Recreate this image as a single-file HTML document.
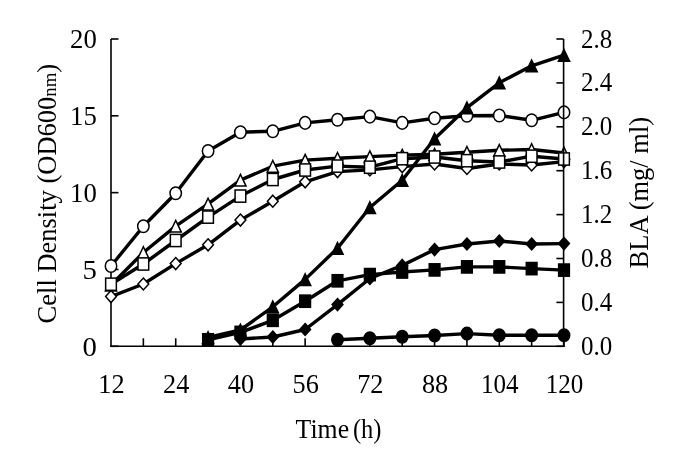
<!DOCTYPE html>
<html><head><meta charset="utf-8"><style>
html,body{margin:0;padding:0;background:#fff;}
svg{display:block;}
text{font-family:"Liberation Serif",serif;fill:#000;}
</style></head><body>
<svg width="685" height="469" viewBox="0 0 685 469">
<rect width="685" height="469" fill="#fff"/>
<line x1="111.00" y1="39.00" x2="111.00" y2="347.10" stroke="#000" stroke-width="1.6"/>
<line x1="110.20" y1="346.30" x2="564.80" y2="346.30" stroke="#000" stroke-width="1.6"/>
<line x1="111.00" y1="346.30" x2="118.50" y2="346.30" stroke="#000" stroke-width="1.6"/>
<line x1="111.00" y1="269.48" x2="118.50" y2="269.48" stroke="#000" stroke-width="1.6"/>
<line x1="111.00" y1="192.65" x2="118.50" y2="192.65" stroke="#000" stroke-width="1.6"/>
<line x1="111.00" y1="115.82" x2="118.50" y2="115.82" stroke="#000" stroke-width="1.6"/>
<line x1="111.00" y1="39.00" x2="118.50" y2="39.00" stroke="#000" stroke-width="1.6"/>
<line x1="143.36" y1="338.30" x2="143.36" y2="346.30" stroke="#000" stroke-width="1.6"/>
<line x1="175.71" y1="338.30" x2="175.71" y2="346.30" stroke="#000" stroke-width="1.6"/>
<line x1="208.07" y1="338.30" x2="208.07" y2="346.30" stroke="#000" stroke-width="1.6"/>
<line x1="240.43" y1="338.30" x2="240.43" y2="346.30" stroke="#000" stroke-width="1.6"/>
<line x1="272.79" y1="338.30" x2="272.79" y2="346.30" stroke="#000" stroke-width="1.6"/>
<line x1="305.14" y1="338.30" x2="305.14" y2="346.30" stroke="#000" stroke-width="1.6"/>
<line x1="337.50" y1="338.30" x2="337.50" y2="346.30" stroke="#000" stroke-width="1.6"/>
<line x1="369.86" y1="338.30" x2="369.86" y2="346.30" stroke="#000" stroke-width="1.6"/>
<line x1="402.21" y1="338.30" x2="402.21" y2="346.30" stroke="#000" stroke-width="1.6"/>
<line x1="434.57" y1="338.30" x2="434.57" y2="346.30" stroke="#000" stroke-width="1.6"/>
<line x1="466.93" y1="338.30" x2="466.93" y2="346.30" stroke="#000" stroke-width="1.6"/>
<line x1="499.29" y1="338.30" x2="499.29" y2="346.30" stroke="#000" stroke-width="1.6"/>
<line x1="531.64" y1="338.30" x2="531.64" y2="346.30" stroke="#000" stroke-width="1.6"/>
<line x1="564.00" y1="338.30" x2="564.00" y2="346.30" stroke="#000" stroke-width="1.6"/>
<polyline points="111.00,266.00 143.36,226.30 175.71,193.20 208.07,151.00 240.43,132.20 272.79,131.30 305.14,122.90 337.50,119.80 369.86,116.60 402.21,122.90 434.57,118.30 466.93,115.80 499.29,115.50 531.64,120.30 564.00,112.40" fill="none" stroke="#000" stroke-width="3.40" stroke-linejoin="round"/>
<ellipse cx="111.00" cy="266.00" rx="5.7" ry="6.3" fill="#fff" stroke="#000" stroke-width="1.50"/>
<ellipse cx="143.36" cy="226.30" rx="5.7" ry="6.3" fill="#fff" stroke="#000" stroke-width="1.50"/>
<ellipse cx="175.71" cy="193.20" rx="5.7" ry="6.3" fill="#fff" stroke="#000" stroke-width="1.50"/>
<ellipse cx="208.07" cy="151.00" rx="5.7" ry="6.3" fill="#fff" stroke="#000" stroke-width="1.50"/>
<ellipse cx="240.43" cy="132.20" rx="5.7" ry="6.3" fill="#fff" stroke="#000" stroke-width="1.50"/>
<ellipse cx="272.79" cy="131.30" rx="5.7" ry="6.3" fill="#fff" stroke="#000" stroke-width="1.50"/>
<ellipse cx="305.14" cy="122.90" rx="5.7" ry="6.3" fill="#fff" stroke="#000" stroke-width="1.50"/>
<ellipse cx="337.50" cy="119.80" rx="5.7" ry="6.3" fill="#fff" stroke="#000" stroke-width="1.50"/>
<ellipse cx="369.86" cy="116.60" rx="5.7" ry="6.3" fill="#fff" stroke="#000" stroke-width="1.50"/>
<ellipse cx="402.21" cy="122.90" rx="5.7" ry="6.3" fill="#fff" stroke="#000" stroke-width="1.50"/>
<ellipse cx="434.57" cy="118.30" rx="5.7" ry="6.3" fill="#fff" stroke="#000" stroke-width="1.50"/>
<ellipse cx="466.93" cy="115.80" rx="5.7" ry="6.3" fill="#fff" stroke="#000" stroke-width="1.50"/>
<ellipse cx="499.29" cy="115.50" rx="5.7" ry="6.3" fill="#fff" stroke="#000" stroke-width="1.50"/>
<ellipse cx="531.64" cy="120.30" rx="5.7" ry="6.3" fill="#fff" stroke="#000" stroke-width="1.50"/>
<ellipse cx="564.00" cy="112.40" rx="5.7" ry="6.3" fill="#fff" stroke="#000" stroke-width="1.50"/>
<polyline points="111.00,285.00 143.36,252.50 175.71,226.10 208.07,203.90 240.43,180.10 272.79,166.20 305.14,160.10 337.50,158.20 369.86,156.60 402.21,155.10 434.57,154.20 466.93,152.20 499.29,150.30 531.64,149.50 564.00,153.00" fill="none" stroke="#000" stroke-width="3.40" stroke-linejoin="round"/>
<polygon points="111.00,279.30 116.60,291.00 105.40,291.00" fill="#fff" stroke="#000" stroke-width="1.50" stroke-linejoin="miter"/>
<polygon points="143.36,246.80 148.96,258.50 137.76,258.50" fill="#fff" stroke="#000" stroke-width="1.50" stroke-linejoin="miter"/>
<polygon points="175.71,220.40 181.31,232.10 170.11,232.10" fill="#fff" stroke="#000" stroke-width="1.50" stroke-linejoin="miter"/>
<polygon points="208.07,198.20 213.67,209.90 202.47,209.90" fill="#fff" stroke="#000" stroke-width="1.50" stroke-linejoin="miter"/>
<polygon points="240.43,174.40 246.03,186.10 234.83,186.10" fill="#fff" stroke="#000" stroke-width="1.50" stroke-linejoin="miter"/>
<polygon points="272.79,160.50 278.39,172.20 267.19,172.20" fill="#fff" stroke="#000" stroke-width="1.50" stroke-linejoin="miter"/>
<polygon points="305.14,154.40 310.74,166.10 299.54,166.10" fill="#fff" stroke="#000" stroke-width="1.50" stroke-linejoin="miter"/>
<polygon points="337.50,152.50 343.10,164.20 331.90,164.20" fill="#fff" stroke="#000" stroke-width="1.50" stroke-linejoin="miter"/>
<polygon points="369.86,150.90 375.46,162.60 364.26,162.60" fill="#fff" stroke="#000" stroke-width="1.50" stroke-linejoin="miter"/>
<polygon points="402.21,149.40 407.81,161.10 396.61,161.10" fill="#fff" stroke="#000" stroke-width="1.50" stroke-linejoin="miter"/>
<polygon points="434.57,148.50 440.17,160.20 428.97,160.20" fill="#fff" stroke="#000" stroke-width="1.50" stroke-linejoin="miter"/>
<polygon points="466.93,146.50 472.53,158.20 461.33,158.20" fill="#fff" stroke="#000" stroke-width="1.50" stroke-linejoin="miter"/>
<polygon points="499.29,144.60 504.89,156.30 493.69,156.30" fill="#fff" stroke="#000" stroke-width="1.50" stroke-linejoin="miter"/>
<polygon points="531.64,143.80 537.24,155.50 526.04,155.50" fill="#fff" stroke="#000" stroke-width="1.50" stroke-linejoin="miter"/>
<polygon points="564.00,147.30 569.60,159.00 558.40,159.00" fill="#fff" stroke="#000" stroke-width="1.50" stroke-linejoin="miter"/>
<polyline points="111.00,296.60 143.36,284.00 175.71,263.60 208.07,244.80 240.43,220.10 272.79,201.20 305.14,181.80 337.50,171.60 369.86,169.90 402.21,166.60 434.57,164.00 466.93,168.50 499.29,164.00 531.64,165.00 564.00,161.60" fill="none" stroke="#000" stroke-width="3.40" stroke-linejoin="round"/>
<polygon points="111.00,290.60 116.40,296.60 111.00,302.60 105.60,296.60" fill="#fff" stroke="#000" stroke-width="1.50"/>
<polygon points="143.36,278.00 148.76,284.00 143.36,290.00 137.96,284.00" fill="#fff" stroke="#000" stroke-width="1.50"/>
<polygon points="175.71,257.60 181.11,263.60 175.71,269.60 170.31,263.60" fill="#fff" stroke="#000" stroke-width="1.50"/>
<polygon points="208.07,238.80 213.47,244.80 208.07,250.80 202.67,244.80" fill="#fff" stroke="#000" stroke-width="1.50"/>
<polygon points="240.43,214.10 245.83,220.10 240.43,226.10 235.03,220.10" fill="#fff" stroke="#000" stroke-width="1.50"/>
<polygon points="272.79,195.20 278.19,201.20 272.79,207.20 267.39,201.20" fill="#fff" stroke="#000" stroke-width="1.50"/>
<polygon points="305.14,175.80 310.54,181.80 305.14,187.80 299.74,181.80" fill="#fff" stroke="#000" stroke-width="1.50"/>
<polygon points="337.50,165.60 342.90,171.60 337.50,177.60 332.10,171.60" fill="#fff" stroke="#000" stroke-width="1.50"/>
<polygon points="369.86,163.90 375.26,169.90 369.86,175.90 364.46,169.90" fill="#fff" stroke="#000" stroke-width="1.50"/>
<polygon points="402.21,160.60 407.61,166.60 402.21,172.60 396.81,166.60" fill="#fff" stroke="#000" stroke-width="1.50"/>
<polygon points="434.57,158.00 439.97,164.00 434.57,170.00 429.17,164.00" fill="#fff" stroke="#000" stroke-width="1.50"/>
<polygon points="466.93,162.50 472.33,168.50 466.93,174.50 461.53,168.50" fill="#fff" stroke="#000" stroke-width="1.50"/>
<polygon points="499.29,158.00 504.69,164.00 499.29,170.00 493.89,164.00" fill="#fff" stroke="#000" stroke-width="1.50"/>
<polygon points="531.64,159.00 537.04,165.00 531.64,171.00 526.24,165.00" fill="#fff" stroke="#000" stroke-width="1.50"/>
<polygon points="564.00,155.60 569.40,161.60 564.00,167.60 558.60,161.60" fill="#fff" stroke="#000" stroke-width="1.50"/>
<polyline points="111.00,284.20 143.36,264.00 175.71,240.50 208.07,217.10 240.43,196.10 272.79,179.50 305.14,170.00 337.50,166.10 369.86,167.20 402.21,158.70 434.57,157.00 466.93,160.70 499.29,162.00 531.64,156.20 564.00,159.00" fill="none" stroke="#000" stroke-width="3.40" stroke-linejoin="round"/>
<rect x="105.65" y="278.10" width="10.70" height="12.20" fill="#fff" stroke="#000" stroke-width="1.50"/>
<rect x="138.01" y="257.90" width="10.70" height="12.20" fill="#fff" stroke="#000" stroke-width="1.50"/>
<rect x="170.36" y="234.40" width="10.70" height="12.20" fill="#fff" stroke="#000" stroke-width="1.50"/>
<rect x="202.72" y="211.00" width="10.70" height="12.20" fill="#fff" stroke="#000" stroke-width="1.50"/>
<rect x="235.08" y="190.00" width="10.70" height="12.20" fill="#fff" stroke="#000" stroke-width="1.50"/>
<rect x="267.44" y="173.40" width="10.70" height="12.20" fill="#fff" stroke="#000" stroke-width="1.50"/>
<rect x="299.79" y="163.90" width="10.70" height="12.20" fill="#fff" stroke="#000" stroke-width="1.50"/>
<rect x="332.15" y="160.00" width="10.70" height="12.20" fill="#fff" stroke="#000" stroke-width="1.50"/>
<rect x="364.51" y="161.10" width="10.70" height="12.20" fill="#fff" stroke="#000" stroke-width="1.50"/>
<rect x="396.86" y="152.60" width="10.70" height="12.20" fill="#fff" stroke="#000" stroke-width="1.50"/>
<rect x="429.22" y="150.90" width="10.70" height="12.20" fill="#fff" stroke="#000" stroke-width="1.50"/>
<rect x="461.58" y="154.60" width="10.70" height="12.20" fill="#fff" stroke="#000" stroke-width="1.50"/>
<rect x="493.94" y="155.90" width="10.70" height="12.20" fill="#fff" stroke="#000" stroke-width="1.50"/>
<rect x="526.29" y="150.10" width="10.70" height="12.20" fill="#fff" stroke="#000" stroke-width="1.50"/>
<rect x="558.65" y="152.90" width="10.70" height="12.20" fill="#fff" stroke="#000" stroke-width="1.50"/>
<polyline points="208.07,337.50 240.43,330.00 272.79,306.80 305.14,279.40 337.50,248.20 369.86,207.50 402.21,180.30 434.57,138.80 466.93,107.70 499.29,82.80 531.64,65.80 564.00,55.20" fill="none" stroke="#000" stroke-width="3.40" stroke-linejoin="round"/>
<polygon points="208.07,331.80 213.67,343.50 202.47,343.50" fill="#000" stroke="#000" stroke-width="1.50" stroke-linejoin="miter"/>
<polygon points="240.43,324.30 246.03,336.00 234.83,336.00" fill="#000" stroke="#000" stroke-width="1.50" stroke-linejoin="miter"/>
<polygon points="272.79,301.10 278.39,312.80 267.19,312.80" fill="#000" stroke="#000" stroke-width="1.50" stroke-linejoin="miter"/>
<polygon points="305.14,273.70 310.74,285.40 299.54,285.40" fill="#000" stroke="#000" stroke-width="1.50" stroke-linejoin="miter"/>
<polygon points="337.50,242.50 343.10,254.20 331.90,254.20" fill="#000" stroke="#000" stroke-width="1.50" stroke-linejoin="miter"/>
<polygon points="369.86,201.80 375.46,213.50 364.26,213.50" fill="#000" stroke="#000" stroke-width="1.50" stroke-linejoin="miter"/>
<polygon points="402.21,174.60 407.81,186.30 396.61,186.30" fill="#000" stroke="#000" stroke-width="1.50" stroke-linejoin="miter"/>
<polygon points="434.57,133.10 440.17,144.80 428.97,144.80" fill="#000" stroke="#000" stroke-width="1.50" stroke-linejoin="miter"/>
<polygon points="466.93,102.00 472.53,113.70 461.33,113.70" fill="#000" stroke="#000" stroke-width="1.50" stroke-linejoin="miter"/>
<polygon points="499.29,77.10 504.89,88.80 493.69,88.80" fill="#000" stroke="#000" stroke-width="1.50" stroke-linejoin="miter"/>
<polygon points="531.64,60.10 537.24,71.80 526.04,71.80" fill="#000" stroke="#000" stroke-width="1.50" stroke-linejoin="miter"/>
<polygon points="564.00,49.50 569.60,61.20 558.40,61.20" fill="#000" stroke="#000" stroke-width="1.50" stroke-linejoin="miter"/>
<polyline points="208.07,339.80 240.43,332.40 272.79,320.30 305.14,301.20 337.50,280.80 369.86,274.60 402.21,272.00 434.57,269.90 466.93,266.90 499.29,266.90 531.64,268.60 564.00,270.10" fill="none" stroke="#000" stroke-width="3.40" stroke-linejoin="round"/>
<rect x="202.72" y="333.70" width="10.70" height="12.20" fill="#000" stroke="#000" stroke-width="1.50"/>
<rect x="235.08" y="326.30" width="10.70" height="12.20" fill="#000" stroke="#000" stroke-width="1.50"/>
<rect x="267.44" y="314.20" width="10.70" height="12.20" fill="#000" stroke="#000" stroke-width="1.50"/>
<rect x="299.79" y="295.10" width="10.70" height="12.20" fill="#000" stroke="#000" stroke-width="1.50"/>
<rect x="332.15" y="274.70" width="10.70" height="12.20" fill="#000" stroke="#000" stroke-width="1.50"/>
<rect x="364.51" y="268.50" width="10.70" height="12.20" fill="#000" stroke="#000" stroke-width="1.50"/>
<rect x="396.86" y="265.90" width="10.70" height="12.20" fill="#000" stroke="#000" stroke-width="1.50"/>
<rect x="429.22" y="263.80" width="10.70" height="12.20" fill="#000" stroke="#000" stroke-width="1.50"/>
<rect x="461.58" y="260.80" width="10.70" height="12.20" fill="#000" stroke="#000" stroke-width="1.50"/>
<rect x="493.94" y="260.80" width="10.70" height="12.20" fill="#000" stroke="#000" stroke-width="1.50"/>
<rect x="526.29" y="262.50" width="10.70" height="12.20" fill="#000" stroke="#000" stroke-width="1.50"/>
<rect x="558.65" y="264.00" width="10.70" height="12.20" fill="#000" stroke="#000" stroke-width="1.50"/>
<polyline points="240.43,339.00 272.79,337.00 305.14,329.50 337.50,304.60 369.86,278.50 402.21,265.40 434.57,249.60 466.93,244.00 499.29,241.00 531.64,244.00 564.00,243.60" fill="none" stroke="#000" stroke-width="3.40" stroke-linejoin="round"/>
<polygon points="240.43,333.00 245.83,339.00 240.43,345.00 235.03,339.00" fill="#000" stroke="#000" stroke-width="1.50"/>
<polygon points="272.79,331.00 278.19,337.00 272.79,343.00 267.39,337.00" fill="#000" stroke="#000" stroke-width="1.50"/>
<polygon points="305.14,323.50 310.54,329.50 305.14,335.50 299.74,329.50" fill="#000" stroke="#000" stroke-width="1.50"/>
<polygon points="337.50,298.60 342.90,304.60 337.50,310.60 332.10,304.60" fill="#000" stroke="#000" stroke-width="1.50"/>
<polygon points="369.86,272.50 375.26,278.50 369.86,284.50 364.46,278.50" fill="#000" stroke="#000" stroke-width="1.50"/>
<polygon points="402.21,259.40 407.61,265.40 402.21,271.40 396.81,265.40" fill="#000" stroke="#000" stroke-width="1.50"/>
<polygon points="434.57,243.60 439.97,249.60 434.57,255.60 429.17,249.60" fill="#000" stroke="#000" stroke-width="1.50"/>
<polygon points="466.93,238.00 472.33,244.00 466.93,250.00 461.53,244.00" fill="#000" stroke="#000" stroke-width="1.50"/>
<polygon points="499.29,235.00 504.69,241.00 499.29,247.00 493.89,241.00" fill="#000" stroke="#000" stroke-width="1.50"/>
<polygon points="531.64,238.00 537.04,244.00 531.64,250.00 526.24,244.00" fill="#000" stroke="#000" stroke-width="1.50"/>
<polygon points="564.00,237.60 569.40,243.60 564.00,249.60 558.60,243.60" fill="#000" stroke="#000" stroke-width="1.50"/>
<polyline points="337.50,339.70 369.86,338.30 402.21,336.80 434.57,335.50 466.93,333.60 499.29,335.30 531.64,335.30 564.00,335.30" fill="none" stroke="#000" stroke-width="3.40" stroke-linejoin="round"/>
<ellipse cx="337.50" cy="339.70" rx="5.7" ry="6.3" fill="#000" stroke="#000" stroke-width="1.50"/>
<ellipse cx="369.86" cy="338.30" rx="5.7" ry="6.3" fill="#000" stroke="#000" stroke-width="1.50"/>
<ellipse cx="402.21" cy="336.80" rx="5.7" ry="6.3" fill="#000" stroke="#000" stroke-width="1.50"/>
<ellipse cx="434.57" cy="335.50" rx="5.7" ry="6.3" fill="#000" stroke="#000" stroke-width="1.50"/>
<ellipse cx="466.93" cy="333.60" rx="5.7" ry="6.3" fill="#000" stroke="#000" stroke-width="1.50"/>
<ellipse cx="499.29" cy="335.30" rx="5.7" ry="6.3" fill="#000" stroke="#000" stroke-width="1.50"/>
<ellipse cx="531.64" cy="335.30" rx="5.7" ry="6.3" fill="#000" stroke="#000" stroke-width="1.50"/>
<ellipse cx="564.00" cy="335.30" rx="5.7" ry="6.3" fill="#000" stroke="#000" stroke-width="1.50"/>
<line x1="563.60" y1="39.00" x2="563.60" y2="347.10" stroke="#000" stroke-width="1.6"/>
<line x1="556.40" y1="346.30" x2="563.60" y2="346.30" stroke="#000" stroke-width="1.6"/>
<line x1="556.40" y1="302.40" x2="563.60" y2="302.40" stroke="#000" stroke-width="1.6"/>
<line x1="556.40" y1="258.50" x2="563.60" y2="258.50" stroke="#000" stroke-width="1.6"/>
<line x1="556.40" y1="214.60" x2="563.60" y2="214.60" stroke="#000" stroke-width="1.6"/>
<line x1="556.40" y1="170.70" x2="563.60" y2="170.70" stroke="#000" stroke-width="1.6"/>
<line x1="556.40" y1="126.80" x2="563.60" y2="126.80" stroke="#000" stroke-width="1.6"/>
<line x1="556.40" y1="82.90" x2="563.60" y2="82.90" stroke="#000" stroke-width="1.6"/>
<line x1="556.40" y1="39.00" x2="563.60" y2="39.00" stroke="#000" stroke-width="1.6"/>
<text x="96.80" y="330.88" text-anchor="end" font-size="25.0" transform="scale(1 1.075)" textLength="14.37" lengthAdjust="spacingAndGlyphs">0</text>
<text x="96.80" y="259.42" text-anchor="end" font-size="25.0" transform="scale(1 1.075)" textLength="14.37" lengthAdjust="spacingAndGlyphs">5</text>
<text x="96.80" y="187.95" text-anchor="end" font-size="25.0" transform="scale(1 1.075)" textLength="26.75" lengthAdjust="spacingAndGlyphs">10</text>
<text x="96.80" y="116.49" text-anchor="end" font-size="25.0" transform="scale(1 1.075)" textLength="26.75" lengthAdjust="spacingAndGlyphs">15</text>
<text x="96.80" y="45.02" text-anchor="end" font-size="25.0" transform="scale(1 1.075)" textLength="26.75" lengthAdjust="spacingAndGlyphs">20</text>
<text x="581.00" y="330.14" text-anchor="start" font-size="25.0" transform="scale(1 1.075)" >0.0</text>
<text x="581.00" y="289.30" text-anchor="start" font-size="25.0" transform="scale(1 1.075)" >0.4</text>
<text x="581.00" y="248.47" text-anchor="start" font-size="25.0" transform="scale(1 1.075)" >0.8</text>
<text x="581.00" y="207.63" text-anchor="start" font-size="25.0" transform="scale(1 1.075)" >1.2</text>
<text x="581.00" y="166.79" text-anchor="start" font-size="25.0" transform="scale(1 1.075)" >1.6</text>
<text x="581.00" y="125.95" text-anchor="start" font-size="25.0" transform="scale(1 1.075)" >2.0</text>
<text x="581.00" y="85.12" text-anchor="start" font-size="25.0" transform="scale(1 1.075)" >2.4</text>
<text x="581.00" y="44.28" text-anchor="start" font-size="25.0" transform="scale(1 1.075)" >2.8</text>
<text x="111.50" y="365.58" text-anchor="middle" font-size="25.0" transform="scale(1 1.075)" textLength="26.25" lengthAdjust="spacingAndGlyphs">12</text>
<text x="176.21" y="365.58" text-anchor="middle" font-size="25.0" transform="scale(1 1.075)" textLength="26.25" lengthAdjust="spacingAndGlyphs">24</text>
<text x="240.93" y="365.58" text-anchor="middle" font-size="25.0" transform="scale(1 1.075)" textLength="26.25" lengthAdjust="spacingAndGlyphs">40</text>
<text x="305.64" y="365.58" text-anchor="middle" font-size="25.0" transform="scale(1 1.075)" textLength="26.25" lengthAdjust="spacingAndGlyphs">56</text>
<text x="370.36" y="365.58" text-anchor="middle" font-size="25.0" transform="scale(1 1.075)" textLength="26.25" lengthAdjust="spacingAndGlyphs">72</text>
<text x="435.07" y="365.58" text-anchor="middle" font-size="25.0" transform="scale(1 1.075)" textLength="26.25" lengthAdjust="spacingAndGlyphs">88</text>
<text x="499.79" y="365.58" text-anchor="middle" font-size="25.0" transform="scale(1 1.075)" textLength="37.50" lengthAdjust="spacingAndGlyphs">104</text>
<text x="564.50" y="365.58" text-anchor="middle" font-size="25.0" transform="scale(1 1.075)" textLength="37.50" lengthAdjust="spacingAndGlyphs">120</text>
<text x="295.60" y="391.25" text-anchor="start" font-size="24.0" transform="scale(1 1.120)" textLength="53.5" lengthAdjust="spacingAndGlyphs">Time</text>
<text x="352.90" y="391.25" text-anchor="start" font-size="24.0" transform="scale(1 1.120)" textLength="28.6" lengthAdjust="spacingAndGlyphs">(h)</text>
<text transform="translate(56.3 323.4) rotate(-90) scale(1 1.120)" font-size="24" text-anchor="start" textLength="259.5" lengthAdjust="spacingAndGlyphs">Cell Density (OD600<tspan font-size="17">nm</tspan>)</text>
<text transform="translate(647.8 268.4) rotate(-90) scale(1 1.120)" font-size="24" text-anchor="start" textLength="151.5" lengthAdjust="spacingAndGlyphs">BLA (mg/ ml)</text>
</svg>
</body></html>
